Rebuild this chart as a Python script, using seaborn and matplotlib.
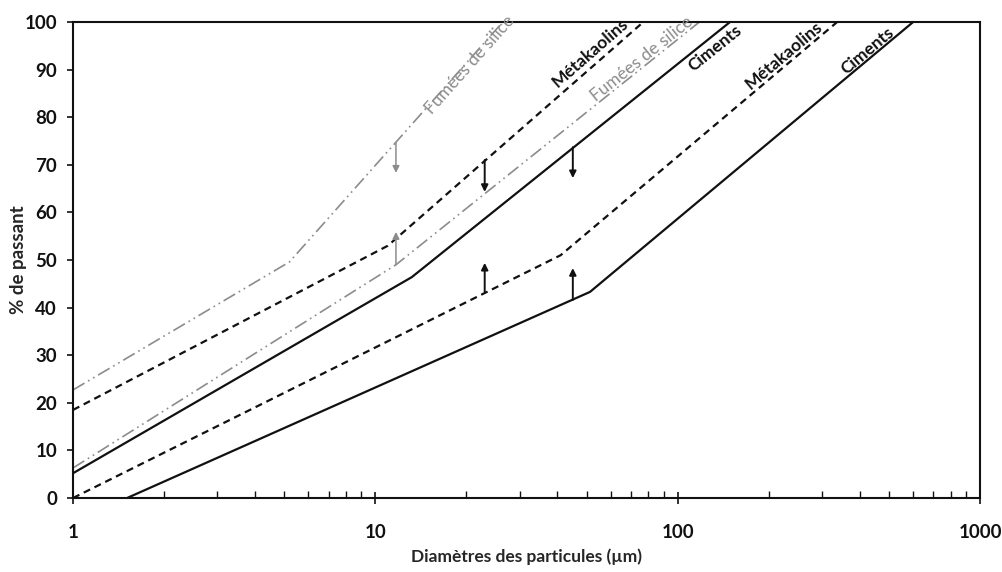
import matplotlib
matplotlib.use("Agg")
import matplotlib.pyplot as plt
import numpy as np
import seaborn as sns
from matplotlib.ticker import LogLocator, NullFormatter

# fuseaux granulaires : diamètre (µm) / % de passant aux points de cassure
cim_fin_d = [1, 13.2, 149]
cim_fin_p = [5.2, 46.4, 100]
cim_gros_d = [1.51, 51.3, 601]
cim_gros_p = [0, 43.3, 100]
meta_fin_d = [1, 11, 77]
meta_fin_p = [18.5, 53, 100]
meta_gros_d = [1, 41, 337]
meta_gros_p = [0, 51, 100]
fum_fin_d = [1, 5.2, 26.4]
fum_fin_p = [22.7, 49.6, 100]
fum_gros_d = [1, 11.7, 118]
fum_gros_p = [6.3, 49, 100]

# flèches entre les fuseaux
fl_d = [11.7, 11.7, 23, 23, 45, 45]
fl_de = [74.6, 49, 71, 43.3, 73.7, 41.6]
fl_vers = [68.3, 55.9, 64.3, 49.4, 67.2, 48.3]
fl_gris = [True, True, False, False, False, False]

# étiquettes le long des courbes
lab_txt = ["Fumées de silice", "Métakaolins", "Fumées de silice", "Ciments", "Métakaolins", "Ciments"]
lab_d = [20.5, 51.5, 76, 133, 224, 424]
lab_p = [91.0, 93.5, 92.3, 94.5, 93.0, 94.0]

xticks = [1, 10, 100, 1000]
yticks = list(range(0, 101, 10))

GRIS = "#8c8c8c"
NOIR = "#111111"

sns.set_style("white")
plt.rcParams["font.family"] = ["Lato", "DejaVu Sans"]

fig = plt.figure(figsize=(10.03, 5.72), dpi=100)
ax = fig.add_axes([73 / 1003, 74 / 572, 907 / 1003, 476 / 572])

courbes = [
    (fum_fin_d, fum_fin_p, GRIS, (0, (8, 2.5, 1, 2.5, 1, 2.5)), 1.2),
    (meta_fin_d, meta_fin_p, NOIR, (0, (3.2, 2.2)), 1.6),
    (fum_gros_d, fum_gros_p, GRIS, (0, (8, 2.5, 1, 2.5, 1, 2.5)), 1.2),
    (cim_fin_d, cim_fin_p, NOIR, "-", 1.6),
    (meta_gros_d, meta_gros_p, NOIR, (0, (3.2, 2.2)), 1.6),
    (cim_gros_d, cim_gros_p, NOIR, "-", 1.6),
]
for d, p, c, ls, lw in courbes:
    sns.lineplot(x=d, y=p, ax=ax, color=c, linestyle=ls, linewidth=lw,
                 sort=False, estimator=None, clip_on=False)

ax.set_xscale("log")
ax.set_xlim(1, 1000)
ax.set_ylim(0, 100)

for d, a, b, g in zip(fl_d, fl_de, fl_vers, fl_gris):
    ax.annotate("", xy=(d, b), xytext=(d, a),
                arrowprops=dict(arrowstyle="-|>", color=GRIS if g else NOIR,
                                lw=1.1 if g else 1.4, mutation_scale=10,
                                shrinkA=0, shrinkB=0))

# orientation des étiquettes selon le dernier segment de chaque courbe
fig.canvas.draw()
for txt, d, p, (cd, cp, c, ls, lw) in zip(lab_txt, lab_d, lab_p, courbes):
    p0 = ax.transData.transform((cd[1], cp[1]))
    p1 = ax.transData.transform((cd[2], cp[2]))
    ang = np.degrees(np.arctan2(p1[1] - p0[1], p1[0] - p0[0]))
    gris = c == GRIS
    ax.text(d, p, txt, rotation=ang, rotation_mode="anchor", ha="center", va="center",
            color=GRIS if gris else NOIR, fontsize=12.5,
            fontweight="normal" if gris else "bold")

ax.set_xticks(xticks)
ax.set_xticklabels([str(t) for t in xticks])
ax.xaxis.set_minor_locator(LogLocator(base=10, subs=np.arange(2, 10)))
ax.xaxis.set_minor_formatter(NullFormatter())
ax.set_yticks(yticks)

ax.tick_params(axis="x", which="major", direction="inout", length=9, width=1.2,
               pad=14, labelsize=13.5, colors=NOIR, bottom=True, top=False)
ax.tick_params(axis="x", which="minor", direction="in", length=5, width=1.0,
               bottom=True, top=False, colors=NOIR)
ax.tick_params(axis="y", which="major", direction="out", length=4.5, width=1.2,
               pad=7, labelsize=13.5, colors=NOIR, left=True, right=False)
for lbl in ax.get_xticklabels() + ax.get_yticklabels():
    lbl.set_fontweight("bold")

for s in ax.spines.values():
    s.set_visible(True)
    s.set_color(NOIR)
    s.set_linewidth(1.5)

ax.set_xlabel("Diamètres des particules (µm)", fontsize=12.5, fontweight="bold")
ax.set_ylabel("% de passant", fontsize=13.5, fontweight="bold")
ax.xaxis.set_label_coords(0.5, -0.105)
ax.yaxis.set_label_coords(-0.051, 0.5)

fig.savefig("out.png", dpi=100)
